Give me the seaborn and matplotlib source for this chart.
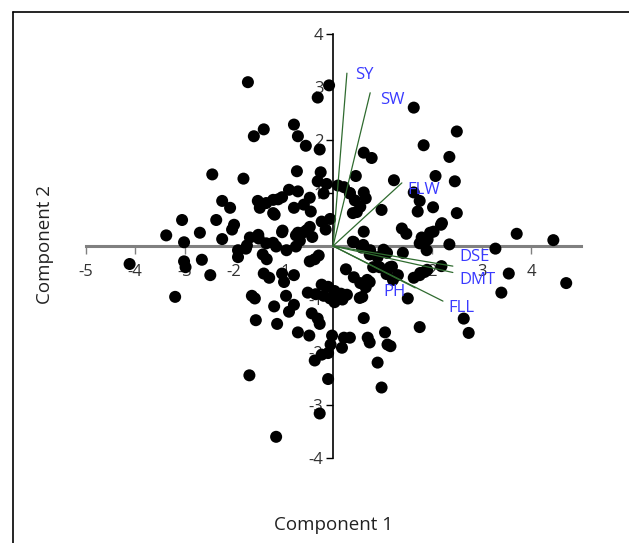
import numpy as np
import pandas as pd
import matplotlib
matplotlib.use("Agg")
import matplotlib.pyplot as plt
import seaborn as sns
from matplotlib.lines import Line2D

# ---- data ----
pc1 = [-1.72, -0.08, -0.31, 1.63, -1.40, -1.60, -0.79, -0.71, -0.55, -0.27,
       2.50, 1.83, 2.35, 0.62, 0.78, -2.44, -1.81, -0.73, -0.25, 0.46,
       1.23, 2.07, 2.46, -0.31, -0.13, 0.10, 0.22, -0.89, -0.71, -0.47,
       -0.19, 0.34, 0.62, 0.44, 0.66, 1.63, 1.75, 2.02, -2.24, -2.08,
       -1.52, -1.35, -1.11, -1.48, -1.18, -0.79, -0.59, -0.45, 0.98, 1.71,
       2.50, -2.36, -2.00, -2.04, -3.05, -3.37, -3.01, -2.69, -2.24, -1.68,
       -1.74, -1.50, -1.35, -1.02, -1.15, -0.94, -0.75, -0.59, -0.47, -0.67,
       -0.75, -0.23, -0.06, -0.15, 0.62, 0.42, 0.58, 1.39, 1.48, 1.79,
       1.91, 2.03, 2.18, 1.75, 1.89, 2.35, 3.28, 3.71, 4.45, 4.71,
       3.55, 3.40, 2.19, 1.75, 1.63, 1.85, 1.19, 1.31, 1.51, 1.02,
       0.90, 0.74, 0.94, 1.08, 0.26, 0.42, 0.66, 0.74, 0.54, 0.62,
       1.75, 2.64, 2.74, -4.11, -3.19, -3.01, -2.98, -2.65, -2.48, -1.92,
       -1.92, -1.76, -1.42, -1.34, -1.40, -1.29, -1.03, -0.99, -0.79, -0.95,
       -0.47, -0.37, -0.29, -1.64, -1.58, -1.56, -1.19, -1.13, -0.89, -0.79,
       -0.71, -0.48, -0.43, -0.31, -0.27, -0.51, -0.35, -0.23, -0.10, 0.03,
       0.16, -0.06, -0.19, 0.03, 0.19, -0.02, -0.05, 0.22, 0.34, 0.18,
       -0.10, -0.37, -0.23, 0.74, 0.70, 1.05, 1.10, 1.16, 0.90, -1.69,
       -0.10, 0.98, -0.27, -1.15,
       0.48, -0.53, -0.42, -1.03, -0.71, -1.21, -1.51, -1.21, -1.03, -1.21,
       0.55, 0.69, 0.81, 1.15, 1.21, 1.76, 1.90, 0.40, 0.61, 0.75,
       1.09, 1.41, 1.96, 2.20, 0.34, 0.55, 0.40, 0.14, 0.28, 0.59]
pc2 = [3.09, 3.03, 2.80, 2.61, 2.20, 2.07, 2.29, 2.07, 1.89, 1.82,
       2.16, 1.90, 1.68, 1.76, 1.66, 1.35, 1.27, 1.41, 1.39, 1.32,
       1.24, 1.32, 1.22, 1.22, 1.17, 1.14, 1.11, 1.06, 1.03, 0.91,
       0.99, 0.99, 1.01, 0.86, 0.90, 1.01, 0.85, 0.73, 0.85, 0.72,
       0.85, 0.81, 0.88, 0.72, 0.59, 0.72, 0.78, 0.65, 0.68, 0.65,
       0.62, 0.49, 0.40, 0.31, 0.49, 0.20, 0.07, 0.25, 0.13, 0.16,
       0.01, 0.14, 0.05, 0.29, -0.01, -0.08, 0.20, 0.26, 0.36, 0.10,
       -0.01, 0.46, 0.51, 0.31, 0.27, 0.07, -0.03, 0.33, 0.23, 0.16,
       0.12, 0.27, 0.40, 0.05, -0.08, 0.03, -0.05, 0.23, 0.11, -0.70,
       -0.52, -0.88, -0.38, -0.55, -0.60, -0.49, -0.39, -0.55, -0.99, -0.07,
       -0.21, -0.16, -0.40, -0.53, -0.44, -0.59, -0.78, -0.68, -0.98, -1.36,
       -1.53, -1.37, -1.64, -0.34, -0.96, -0.29, -0.40, -0.26, -0.55, -0.08,
       -0.21, -0.05, -0.16, -0.25, -0.52, -0.60, -0.52, -0.68, -0.55, -0.94,
       -0.29, -0.25, -0.18, -0.94, -0.99, -1.40, -1.14, -1.47, -1.24, -1.11,
       -1.63, -1.69, -1.27, -1.37, -1.47, -0.88, -0.91, -0.73, -0.77, -0.85,
       -0.90, -0.99, -0.94, -1.06, -1.01, -1.69, -1.86, -1.73, -1.73, -1.92,
       -2.02, -2.16, -2.05, -1.82, -1.73, -1.63, -1.86, -1.89, -2.20, -2.44,
       -2.51, -2.67, -3.16, -3.60,
       0.64, 0.30, 0.17, 0.26, 0.25, 0.06, 0.21, 0.62, 0.92, 0.87,
       -0.70, -0.64, -0.40, -0.40, -0.64, -0.51, -0.45, 0.08, 0.02, -0.08,
       -0.13, -0.13, 0.25, 0.43, 1.00, 0.74, 0.62, -0.98, -0.92, -0.96]

traits = ["SY", "SW", "FLW", "DSE", "DMT", "PH", "FLL"]
load1 = [0.28, 0.75, 1.39, 2.42, 2.42, 1.66, 2.22]
load2 = [3.26, 2.89, 1.19, -0.38, -0.50, -0.79, -1.04]

xticks = [-5, -4, -3, -2, -1, 1, 2, 3, 4]
yticks = [-4, -3, -2, -1, 1, 2, 3, 4]

scores = pd.DataFrame({"Component 1": pc1, "Component 2": pc2})

sns.set_style("white")
plt.rcParams["font.family"] = ["Open Sans", "DejaVu Sans"]
plt.rcParams["axes.unicode_minus"] = False

fig = plt.figure(figsize=(6.29, 5.43), dpi=100)
ax = fig.add_axes([0.136, 0.1565, 0.787, 0.781])

sns.scatterplot(data=scores, x="Component 1", y="Component 2", ax=ax,
                color="black", s=75, edgecolor="none", zorder=2.6)

# loading vectors
lbl_off = {"SY": (8, -2), "SW": (10, -7), "FLW": (6, -7), "DSE": (7, 9),
           "DMT": (7, -8), "PH": (-32, -4), "FLL": (5, -7)}
for name, lx, ly in zip(traits, load1, load2):
    ax.plot([0, lx], [0, ly], color="#2f6b2f", lw=0.9, zorder=3)
    ax.annotate(name, (lx, ly), xytext=lbl_off[name], textcoords="offset pixels",
                color="#3a3aff", fontsize=12, ha="left", va="center", zorder=4)

ax.set_xlim(-5, 5)
ax.set_ylim(-4, 4)
ax.spines["left"].set_position(("data", 0))
ax.spines["bottom"].set_position(("data", 0))
ax.spines["top"].set_visible(False)
ax.spines["right"].set_visible(False)
ax.spines["left"].set_color("black")
ax.spines["left"].set_linewidth(1.2)
ax.spines["bottom"].set_color("#808080")
ax.spines["bottom"].set_linewidth(2.2)
ax.set_xticks(xticks)
ax.set_yticks(yticks)
ax.tick_params(axis="x", direction="out", length=6, width=1, color="#808080",
               labelsize=12, pad=7, bottom=True, labelcolor="#333333")
ax.tick_params(axis="y", direction="out", length=5, width=1, color="black",
               labelsize=12, pad=2, left=True, labelcolor="#333333")
ax.set_xlabel("")
ax.set_ylabel("")
ax.set_facecolor("white")

fig.text(0.53, 0.033, "Component 1", ha="center", va="center", fontsize=13.5, color="#222222")
fig.text(0.072, 0.55, "Component 2", ha="center", va="center", rotation=90,
         fontsize=13.5, color="#222222")

# frame round the figure (left and top edges)
fig.add_artist(Line2D([13 / 629, 13 / 629], [0, 1 - 12 / 543], color="black", lw=1.2))
fig.add_artist(Line2D([13 / 629, 1], [1 - 12 / 543, 1 - 12 / 543], color="black", lw=1.2))

fig.savefig("out.png", dpi=100, facecolor="white")
